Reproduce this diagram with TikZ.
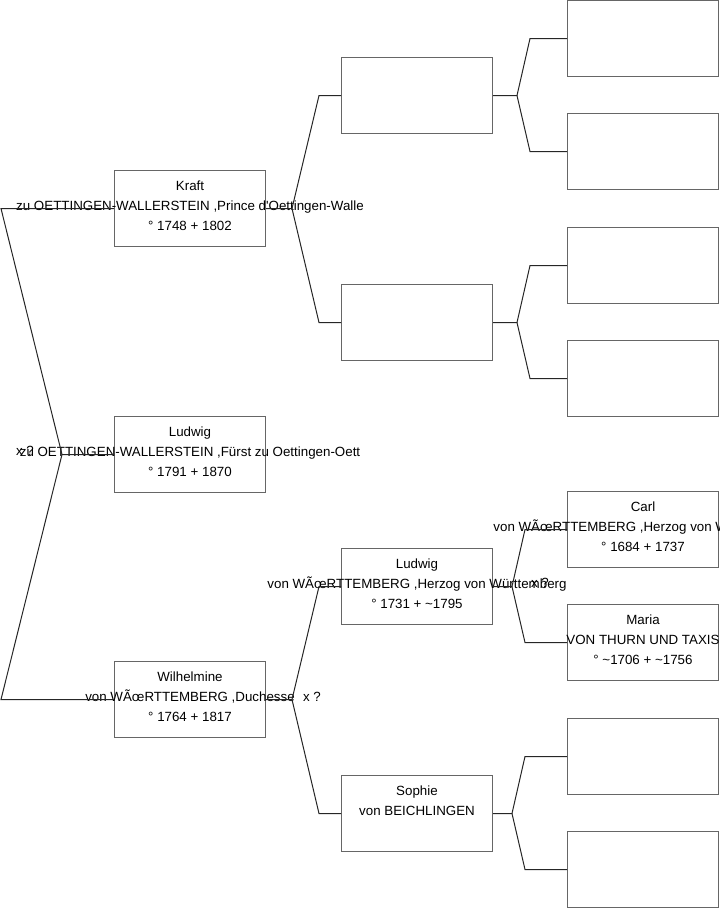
\documentclass[tikz,border=0pt]{standalone}
\usepackage{fontspec}
\setmainfont{Liberation Sans}
\usetikzlibrary{calc}
\begin{document}
\begin{tikzpicture}[x=0.75pt,y=-0.75pt,
  box/.style={draw=black!60,line width=0.75pt,minimum width=113.25pt,minimum height=57pt,inner sep=0pt,anchor=north west},
  line/.style={draw=black!85,line width=0.75pt},
  txt/.style={font=\fontsize{10}{15}\selectfont,align=center,inner sep=0pt,anchor=north},
]
\clip (0,0) rectangle (719,908);
% generation 1
\node[box] (kraft) at (114,170) {};
\node[box] (ludwig) at (114,416) {};
\node[box] (wilh) at (114,661) {};
% generation 2
\node[box] (pk) at (341,57) {};
\node[box] (mk) at (341,284) {};
\node[box] (ludw) at (341,548) {};
\node[box] (soph) at (341,775) {};
% generation 3
\foreach \n/\y in {pkf/0,pkm/113,mkf/227,mkm/340,carl/491,maria/604,sphf/718,sphm/831}
  \node[box] (\n) at (567,\y) {};
% texts
\node[txt] (kraft-t) at ([yshift=-7.9pt]kraft.north) {Kraft\\zu OETTINGEN-WALLERSTEIN ,Prince d\textquotesingle Oettingen-Walle\\° 1748 + 1802};
\node[txt] (ludwig-t) at ([yshift=-7.9pt]ludwig.north) {Ludwig\\zu OETTINGEN-WALLERSTEIN ,Fürst zu Oettingen-Oett\\° 1791 + 1870};
\node[txt] (wilh-t) at ([yshift=-7.9pt]wilh.north) {Wilhelmine\\von WÃ\oe{}RTTEMBERG ,Duchesse\\° 1764 + 1817};
\node[txt] (ludw-t) at ([yshift=-7.9pt]ludw.north) {Ludwig\\von WÃ\oe{}RTTEMBERG ,Herzog von Württemberg\\° 1731 + \textasciitilde1795};
\node[txt] (soph-t) at ([yshift=-7.9pt]soph.north) {Sophie\\von BEICHLINGEN};
\node[txt] (carl-t) at ([yshift=-7.9pt]carl.north) {Carl\\von WÃ\oe{}RTTEMBERG ,Herzog von Württemberg\\° 1684 + 1737};
\node[txt] (maria-t) at ([yshift=-7.9pt]maria.north) {Maria\\VON THURN UND TAXIS\\° \textasciitilde1706 + \textasciitilde1756};
% marriages
\node[txt,anchor=center] (root-x) at (25,451) {x ?};
\node[txt,anchor=center] (wilh-x) at (312,697) {x ?};
\node[txt,anchor=center] (ludw-x) at (540,583) {x ?};
% connectors
\draw[line] (kraft.west) -- ++(-113,0) -- ($(ludwig.west)+(-52,0)$) -- (ludwig.west);
\draw[line] (wilh.west) -- ++(-113,0) -- ($(ludwig.west)+(-52,0)$);
\foreach \p/\u/\l/\j/\s in {kraft/pk/mk/26/22,wilh/ludw/soph/26/22,pk/pkf/pkm/24/37,mk/mkf/mkm/24/37,ludw/carl/maria/19/42,soph/sphf/sphm/19/42}{
  \draw[line] (\u.west) -- ++(-\s,0) -- ($(\p.east)+(\j,0)$) -- (\p.east);
  \draw[line] (\l.west) -- ++(-\s,0) -- ($(\p.east)+(\j,0)$);
}
\end{tikzpicture}
\end{document}
